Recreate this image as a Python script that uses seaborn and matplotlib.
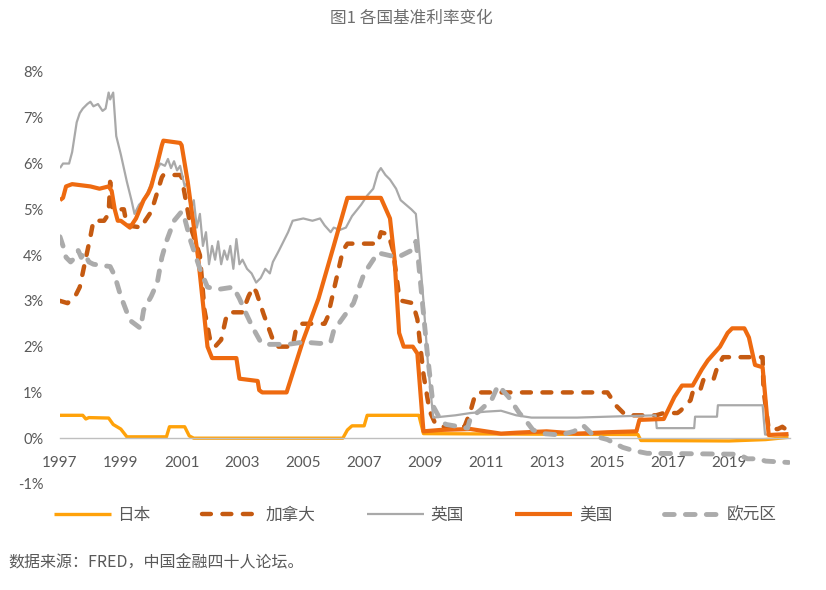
import matplotlib
matplotlib.use("Agg")
import matplotlib.pyplot as plt
import seaborn as sns
import pandas as pd

# ---------------- data ----------------
japan_year = [1997.0, 1997.75, 1997.85, 1997.95, 1998.6, 1998.75, 1998.9, 1999.0, 1999.2,
              2000.5, 2000.6, 2001.1, 2001.25, 2001.4, 2006.3, 2006.45, 2006.6, 2007.0,
              2007.1, 2008.8, 2008.95, 2012.0, 2016.0, 2016.1, 2019.0, 2020.2, 2020.95]
japan_rate = [0.5, 0.5, 0.42, 0.45, 0.44, 0.3, 0.24, 0.2, 0.03,
              0.03, 0.25, 0.25, 0.05, 0.0, 0.0, 0.18, 0.27, 0.27,
              0.5, 0.5, 0.1, 0.09, 0.08, -0.05, -0.06, -0.03, 0.02]

canada_year = [1997.0, 1997.25, 1997.5, 1997.65, 1998.0, 1998.1, 1998.45, 1998.6, 1998.65,
               1998.72, 1999.1, 1999.2, 1999.7, 1999.8, 1999.95, 2000.05, 2000.35, 2000.4,
               2000.95, 2001.0, 2001.3, 2001.6, 2001.75, 2001.95, 2002.1, 2002.3, 2002.45,
               2002.55, 2003.0, 2003.2, 2003.35, 2003.45, 2003.7, 2004.0, 2004.15, 2004.65,
               2004.75, 2004.9, 2005.7, 2005.8, 2006.3, 2006.45, 2007.45, 2007.55, 2007.8,
               2007.95, 2008.15, 2008.25, 2008.6, 2008.75, 2008.95, 2009.15, 2009.35, 2009.6,
               2010.3, 2010.5, 2010.65, 2010.75, 2015.0, 2015.15, 2015.3, 2015.45, 2015.6,
               2016.6, 2016.85, 2017.3, 2017.4, 2017.73, 2017.82, 2018.05, 2018.15, 2018.48,
               2018.6, 2018.8, 2020.1, 2020.13, 2020.3, 2020.6, 2020.75, 2020.95]
canada_rate = [3.0, 2.95, 3.1, 3.3, 4.4, 4.75, 4.75, 4.9, 5.6,
               5.0, 5.0, 4.65, 4.6, 4.75, 4.9, 5.05, 5.7, 5.75,
               5.75, 5.7, 4.6, 4.0, 2.8, 2.1, 2.0, 2.15, 2.6,
               2.75, 2.75, 3.1, 3.3, 3.2, 2.7, 2.15, 2.0, 2.0,
               2.35, 2.5, 2.5, 2.65, 4.1, 4.25, 4.25, 4.5, 4.45,
               4.1, 3.1, 3.0, 2.95, 2.6, 1.4, 0.6, 0.3, 0.25,
               0.25, 0.6, 0.95, 1.0, 1.0, 0.85, 0.7, 0.6, 0.5,
               0.5, 0.55, 0.55, 0.6, 0.83, 1.05, 1.05, 1.27, 1.27,
               1.53, 1.77, 1.77, 1.05, 0.2, 0.2, 0.25, 0.15]

uk_year = [1997.0, 1997.1, 1997.3, 1997.4, 1997.55, 1997.65, 1997.75, 1997.9, 1998.0,
           1998.1, 1998.25, 1998.4, 1998.5, 1998.6, 1998.65, 1998.75, 1998.85, 1999.0,
           1999.2, 1999.35, 1999.45, 1999.6, 1999.75, 1999.9, 2000.1, 2000.3, 2000.45,
           2000.55, 2000.65, 2000.75, 2000.85, 2000.95, 2001.1, 2001.2, 2001.3, 2001.4,
           2001.5, 2001.6, 2001.7, 2001.8, 2001.9, 2002.0, 2002.1, 2002.2, 2002.3,
           2002.4, 2002.5, 2002.6, 2002.7, 2002.8, 2002.9, 2003.0, 2003.15, 2003.3,
           2003.45, 2003.6, 2003.75, 2003.9, 2004.0, 2004.2, 2004.35, 2004.5, 2004.65,
           2005.0, 2005.3, 2005.55, 2005.7, 2005.9, 2006.0, 2006.2, 2006.4, 2006.6,
           2006.9, 2007.1, 2007.3, 2007.45, 2007.55, 2007.7, 2007.85, 2008.05, 2008.2,
           2008.55, 2008.7, 2008.8, 2008.95, 2009.1, 2009.27, 2010.0, 2010.5, 2011.0,
           2011.5, 2012.0, 2012.5, 2014.0, 2015.0, 2016.58, 2016.62, 2017.85, 2017.88,
           2018.6, 2018.63, 2020.1, 2020.18, 2020.95]
uk_rate = [5.9, 6.0, 6.0, 6.25, 6.9, 7.1, 7.2, 7.3, 7.35,
           7.25, 7.3, 7.15, 7.2, 7.55, 7.4, 7.55, 6.6, 6.2,
           5.6, 5.2, 4.9, 5.1, 5.2, 5.4, 5.75, 6.0, 5.95,
           6.1, 5.9, 6.05, 5.85, 5.95, 5.5, 5.6, 5.0, 5.2,
           4.6, 4.9, 4.2, 4.5, 3.8, 4.2, 3.9, 4.3, 3.8,
           4.1, 3.9, 4.2, 3.7, 4.35, 3.8, 3.9, 3.7, 3.6,
           3.4, 3.5, 3.7, 3.6, 3.85, 4.1, 4.3, 4.5, 4.75,
           4.8, 4.75, 4.8, 4.65, 4.5, 4.6, 4.55, 4.6, 4.85,
           5.1, 5.3, 5.45, 5.8, 5.9, 5.75, 5.65, 5.45, 5.2,
           5.0, 4.9, 4.2, 3.0, 1.6, 0.45, 0.5, 0.55, 0.58,
           0.6, 0.5, 0.45, 0.45, 0.47, 0.5, 0.22, 0.22, 0.47,
           0.47, 0.72, 0.72, 0.08, 0.07]

us_year = [1997.0, 1997.1, 1997.2, 1997.4, 1998.0, 1998.3, 1998.6, 1998.7, 1998.8,
           1998.9, 1999.0, 1999.3, 1999.5, 1999.75, 1999.9, 2000.0, 2000.2, 2000.35,
           2000.4, 2000.95, 2001.0, 2001.2, 2001.55, 2001.85, 2002.0, 2002.8, 2002.9,
           2003.5, 2003.55, 2003.65, 2004.45, 2005.0, 2005.5, 2006.0, 2006.45, 2007.55,
           2007.85, 2008.0, 2008.15, 2008.3, 2008.6, 2008.75, 2008.95, 2009.5, 2010.5,
           2011.0, 2011.5, 2012.0, 2013.0, 2014.0, 2015.0, 2015.95, 2016.05, 2016.85,
           2017.2, 2017.45, 2017.8, 2018.1, 2018.3, 2018.7, 2018.95, 2019.1, 2019.5,
           2019.65, 2019.85, 2020.1, 2020.3, 2020.95]
us_rate = [5.2, 5.25, 5.5, 5.55, 5.5, 5.45, 5.5, 5.4, 5.0,
           4.75, 4.75, 4.6, 4.8, 5.2, 5.35, 5.5, 6.0, 6.4,
           6.5, 6.45, 6.4, 5.6, 3.9, 2.0, 1.75, 1.75, 1.3,
           1.25, 1.05, 1.0, 1.0, 2.15, 3.05, 4.2, 5.25, 5.25,
           4.8, 3.9, 2.3, 2.0, 2.0, 1.85, 0.15, 0.18, 0.2,
           0.15, 0.1, 0.12, 0.15, 0.1, 0.13, 0.15, 0.4, 0.42,
           0.9, 1.15, 1.15, 1.5, 1.7, 2.0, 2.3, 2.4, 2.4,
           2.2, 1.6, 1.55, 0.07, 0.09]

euro_year = [1997.0, 1997.1, 1997.2, 1997.35, 1997.5, 1997.6, 1997.7, 1997.8, 1997.95,
             1998.1, 1998.65, 1998.8, 1999.0, 1999.2, 1999.35, 1999.65, 1999.75, 2000.0,
             2000.2, 2000.35, 2000.5, 2000.75, 2001.0, 2001.1, 2001.3, 2001.6, 2001.85,
             2002.2, 2002.7, 2002.9, 2003.1, 2003.35, 2003.6, 2003.8, 2004.5, 2005.0,
             2005.55, 2005.9, 2006.0, 2006.65, 2007.0, 2007.45, 2008.1, 2008.55, 2008.7,
             2008.78, 2009.07, 2009.27, 2009.55, 2009.7, 2010.4, 2010.5, 2010.8, 2011.2,
             2011.4, 2011.55, 2011.75, 2012.1, 2012.3, 2012.55, 2012.9, 2013.45, 2013.9,
             2014.2, 2014.55, 2015.0, 2015.2, 2015.5, 2015.85, 2016.3, 2019.3, 2019.6,
             2019.95, 2020.2, 2020.95]
euro_rate = [4.4, 4.2, 3.95, 3.85, 3.95, 4.1, 3.95, 4.05, 3.85,
             3.8, 3.75, 3.55, 3.1, 2.75, 2.55, 2.4, 2.8, 3.1,
             3.4, 3.95, 4.3, 4.75, 4.95, 4.8, 4.3, 3.7, 3.3,
             3.25, 3.3, 3.05, 2.75, 2.4, 2.1, 2.05, 2.05, 2.1,
             2.07, 2.1, 2.35, 2.95, 3.6, 4.05, 3.95, 4.1, 4.3,
             3.9, 1.9, 0.7, 0.35, 0.3, 0.22, 0.45, 0.6, 0.85,
             1.15, 1.05, 0.9, 0.55, 0.4, 0.18, 0.1, 0.07, 0.15,
             0.28, 0.05, -0.03, -0.1, -0.2, -0.27, -0.33, -0.35, -0.45,
             -0.45, -0.5, -0.53]

series_names = ["日本", "加拿大", "英国", "美国", "欧元区"]
year_ticks = list(range(1997, 2021, 2))
y_ticks = [-1, 0, 1, 2, 3, 4, 5, 6, 7, 8]

# ---------------- styling ----------------
sns.set_style("white")
plt.rcParams['font.family'] = ['Lato', 'Noto Sans CJK SC', 'DejaVu Sans']

fig = plt.figure(figsize=(8.26, 5.90), dpi=100)
ax = fig.add_axes([0.0726, 0.1797, 0.8838, 0.6983])

colors = {"日本": "#FFA20A", "加拿大": "#C55A11", "英国": "#A9A9A9",
          "美国": "#EE6A10", "欧元区": "#ABABAB"}

data = [
    (japan_year, japan_rate, "日本", dict(lw=2.4, linestyle="-")),
    (canada_year, canada_rate, "加拿大", dict(lw=3.2, linestyle=(0, (2.0, 2.6)),
                                            dash_capstyle="round")),
    (uk_year, uk_rate, "英国", dict(lw=1.6, linestyle="-")),
    (us_year, us_rate, "美国", dict(lw=3.0, linestyle="-")),
    (euro_year, euro_rate, "欧元区", dict(lw=3.5, linestyle=(0, (2.0, 2.3)),
                                         dash_capstyle="round")),
]

for i, (xs, ys, name, kw) in enumerate(data):
    df = pd.DataFrame({"year": xs, "rate": ys})
    sns.lineplot(data=df, x="year", y="rate", ax=ax, color=colors[name],
                 estimator=None, sort=False, label=name, zorder=2 + i,
                 solid_capstyle="butt", **kw)

ax.set_xlim(1997, 2021)
ax.set_ylim(-1, 8)
ax.set_xticks(year_ticks)
ax.set_xticklabels([str(y) for y in year_ticks])
ax.set_yticks(y_ticks)
ax.set_yticklabels([f"{v}%" for v in y_ticks])
ax.set_xlabel("")
ax.set_ylabel("")

for s in ["top", "right", "left"]:
    ax.spines[s].set_visible(False)
ax.spines["bottom"].set_position(("data", 0))
ax.spines["bottom"].set_color("#BFBFBF")
ax.spines["bottom"].set_linewidth(1.0)
ax.tick_params(axis="x", which="major", direction="out", length=4, width=1.0,
               color="#BFBFBF", labelsize=11, labelcolor="#595959", pad=9)
ax.tick_params(axis="y", which="major", length=0, labelsize=10.5,
               labelcolor="#595959", pad=12)
ax.grid(False)

leg = ax.legend(loc="center", bbox_to_anchor=(0.503, 0.127),
                bbox_transform=fig.transFigure, ncol=5, frameon=False,
                handlelength=3.4, handletextpad=0.4, columnspacing=3.1,
                prop={"family": "Noto Sans CJK SC", "size": 12})
for t in leg.get_texts():
    t.set_color("#595959")

fig.text(411 / 826, 1 - 18 / 590, "图1 各国基准利率变化", ha="center", va="center",
         fontsize=12, color="#6E6E6E", family="Noto Sans CJK SC")
fig.text(8 / 826, 1 - 563 / 590, "数据来源：FRED，中国金融四十人论坛。", ha="left",
         va="center", fontsize=11.5, color="#595959", family="Noto Sans CJK SC")

fig.savefig("out.png", dpi=100)
